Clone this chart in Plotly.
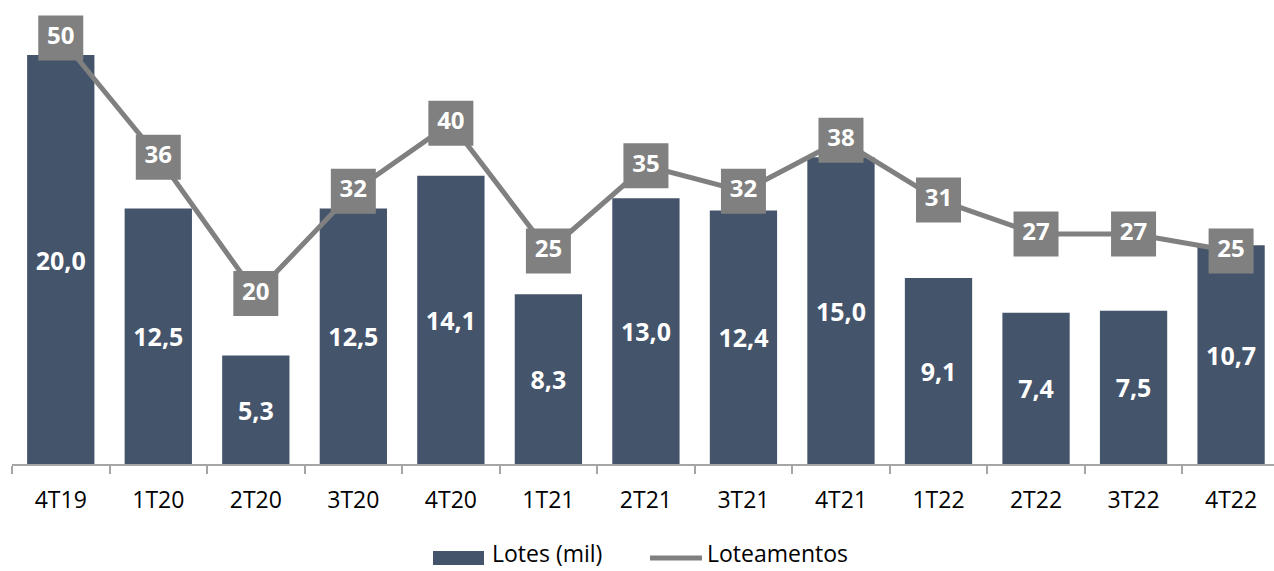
import plotly.graph_objects as go

categories = ["4T19", "1T20", "2T20", "3T20", "4T20", "1T21", "2T21", "3T21", "4T21", "1T22", "2T22", "3T22", "4T22"]
lotes = [20.0, 12.5, 5.3, 12.5, 14.1, 8.3, 13.0, 12.4, 15.0, 9.1, 7.4, 7.5, 10.7]
loteamentos = [50, 36, 20, 32, 40, 25, 35, 32, 38, 31, 27, 27, 25]

W, H = 1274, 571
ML, MR, MT, MB = 12, 0, 10, 107
PW, PH = W - ML - MR, H - MT - MB

def px(x):
    return (x - ML) / PW

def py(y):
    return (H - MB - y) / PH

FONT = "Open Sans"
BAR_COLOR = "#44546a"
LINE_COLOR = "#808080"

fig = go.Figure()
fig.add_trace(go.Bar(
    x=categories, y=lotes, name="Lotes (mil)",
    marker=dict(color=BAR_COLOR, line=dict(width=0)),
    text=[f"{v:.1f}".replace(".", ",") for v in lotes],
    textposition="inside", insidetextanchor="middle",
    textfont=dict(family=FONT, size=25, color="white", weight="bold"),
    textangle=0,
    yaxis="y",
))
fig.add_trace(go.Scatter(
    x=categories, y=loteamentos, name="Loteamentos",
    mode="lines+markers+text",
    line=dict(color=LINE_COLOR, width=5),
    marker=dict(symbol="square", size=45, color=LINE_COLOR),
    text=[str(v) for v in loteamentos],
    textposition="middle center",
    textfont=dict(family=FONT, size=24, color="white", weight="bold"),
    cliponaxis=False,
    yaxis="y2",
))

fig.update_layout(
    width=W, height=H,
    margin=dict(l=ML, r=MR, t=MT, b=MB),
    plot_bgcolor="white", paper_bgcolor="white",
    showlegend=False,
    bargap=0.31,
    xaxis=dict(
        type="category", range=[-0.5, 12.44],
        tickson="boundaries", ticks="outside", ticklen=8, tickcolor="#a6a6a6", tickwidth=2,
        showline=True, linecolor="#a6a6a6", linewidth=2,
        showgrid=False,
        tickfont=dict(family=FONT, size=23, color="black"),
        ticklabelstandoff=14,
    ),
    yaxis=dict(range=[0, PH / 20.45], visible=False, showgrid=False, zeroline=False),
    yaxis2=dict(range=[0, PH / 8.52], overlaying="y", visible=False, showgrid=False, zeroline=False),
    shapes=[
        dict(type="rect", xref="paper", yref="paper",
             x0=px(433), x1=px(484), y0=py(551), y1=py(565),
             fillcolor=BAR_COLOR, line=dict(width=0)),
        dict(type="line", xref="paper", yref="paper",
             x0=px(650), x1=px(702), y0=py(558), y1=py(558),
             line=dict(color=LINE_COLOR, width=5)),
    ],
    annotations=[
        dict(text="Lotes (mil)", xref="paper", yref="paper", x=px(490), y=py(571),
             xanchor="left", yanchor="bottom", showarrow=False,
             font=dict(family=FONT, size=23, color="black")),
        dict(text="Loteamentos", xref="paper", yref="paper", x=px(705), y=py(571),
             xanchor="left", yanchor="bottom", showarrow=False,
             font=dict(family=FONT, size=23, color="black")),
    ],
)

fig.write_html("out.html", config={"displayModeBar": False},
               post_script="document.body.style.margin='0';document.body.style.overflow='hidden';")
